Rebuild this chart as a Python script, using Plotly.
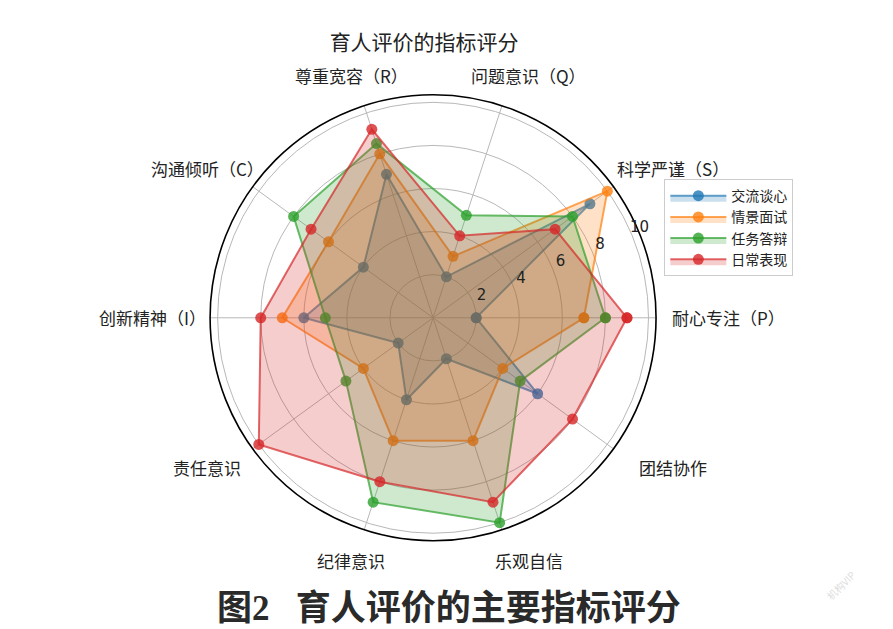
import math
import plotly.graph_objects as go

# 指标（逆时针，从右侧开始）
categories = ["耐心专注（P）", "科学严谨（S）", "问题意识（Q）", "尊重宽容（R）", "沟通倾听（C）",
              "创新精神（I）", "责任意识", "纪律意识", "乐观自信", "团结协作"]

jiaoliu = [2, 9, 2, 7, 4, 6, 2, 4, 2, 6]        # 交流谈心
qingjing = [7, 10, 3, 8, 6, 7, 4, 6, 6, 4]      # 情景面试
renwu = [8, 8, 5, 8.5, 8, 5, 5, 9, 10, 5]       # 任务答辩
richang = [9, 7, 4, 9.2, 7, 8, 10, 8, 9, 8]     # 日常表现

radial_ticks = [2, 4, 6, 8, 10]

series = [
    ("交流谈心", jiaoliu, (31, 119, 180)),
    ("情景面试", qingjing, (255, 127, 14)),
    ("任务答辩", renwu, (44, 160, 44)),
    ("日常表现", richang, (214, 39, 40)),
]

FONT = "Noto Sans CJK SC"
W, H = 893, 629
CX, CY = 432, 310   # 标签椭圆中心（像素）
RMAX = 10.35
# 主极坐标区域（中心与半宽，纸面比例）
FX, FY, HX, HY = 0.476, 0.5075, 0.25, 0.3545
RMAX2 = 12.0                     # 刻度文字用的第二个极坐标，比例尺相同
K = RMAX2 / RMAX

fig = go.Figure()
for name, vals, c in series:
    r, g, b = c
    fig.add_trace(go.Scatterpolar(
        r=vals + vals[:1],
        theta=categories + categories[:1],
        name=name,
        mode="lines+markers",
        fill="toself",
        fillcolor=f"rgba({r},{g},{b},0.23)",
        line=dict(color=f"rgba({r},{g},{b},0.7)", width=2),
        marker=dict(size=11, color=f"rgba({r},{g},{b},0.8)"),
    ))

# 径向刻度文字（放在刻度外侧一点，22.5°方向）
fig.add_trace(go.Scatterpolar(
    r=[v + 0.45 for v in radial_ticks],
    theta=[23.5] * len(radial_ticks),
    text=[str(v) for v in radial_ticks],
    mode="text", textposition="middle center", cliponaxis=False,
    textfont=dict(size=15, family="DejaVu Sans", color="#222222"),
    subplot="polar2", showlegend=False, hoverinfo="skip",
))

fig.update_layout(
    width=W, height=H,
    margin=dict(l=0, r=0, t=0, b=0),
    paper_bgcolor="white",
    font=dict(family=FONT, color="#222222"),
    title=dict(text="育人评价的指标评分", x=0.466, y=0.945, xanchor="center", yanchor="middle",
               font=dict(size=21, family=FONT, color="#222222")),
    polar=dict(
        domain=dict(x=[FX - HX, FX + HX], y=[FY - HY, FY + HY]),
        bgcolor="white",
        angularaxis=dict(
            type="category", rotation=0, direction="counterclockwise",
            showline=True, linecolor="black", linewidth=1.6,
            gridcolor="#b8b8b8", gridwidth=1, ticks="", showticklabels=False,
        ),
        radialaxis=dict(
            range=[0, RMAX], tickvals=radial_ticks, angle=22.5,
            showline=False, ticks="", showticklabels=False,
            gridcolor="#b8b8b8", gridwidth=1,
        ),
    ),
    polar2=dict(
        domain=dict(x=[FX - HX * K, FX + HX * K], y=[FY - HY * K, FY + HY * K]),
        bgcolor="rgba(0,0,0,0)",
        angularaxis=dict(visible=False, rotation=0, direction="counterclockwise"),
        radialaxis=dict(visible=False, range=[0, RMAX2]),
    ),
    legend=dict(
        x=0.735, y=0.728, xanchor="left", yanchor="top",
        bordercolor="#cccccc", borderwidth=1, bgcolor="rgba(255,255,255,0.85)",
        font=dict(size=14, family=FONT, color="#222222"),
        tracegroupgap=0, itemwidth=56,
    ),
    showlegend=True,
)

# 指标标签：绕图放在椭圆上，文字居中
n = len(categories)
for i, lab in enumerate(categories):
    ang = 2 * math.pi * i / n
    px = CX + 288 * math.cos(ang)
    py = CY - 255 * math.sin(ang)
    fig.add_annotation(
        text=lab, x=px / W, y=1 - py / H, xref="paper", yref="paper",
        xanchor="center", yanchor="middle", showarrow=False,
        font=dict(size=17, family=FONT, color="#222222"),
    )

fig.add_annotation(
    text="<b>图2\u00a0\u00a0\u00a0育人评价的主要指标评分</b>", x=441 / W, y=0.045, xref="paper", yref="paper",
    xanchor="center", yanchor="middle", showarrow=False,
    font=dict(size=35, family="Liberation Serif, " + FONT, color="#2a2a2a"),
)
fig.add_annotation(
    text="机构VIP", x=0.955, y=0.05, xref="paper", yref="paper", showarrow=False,
    textangle=-45, font=dict(size=10, family=FONT, color="#dddddd"),
)

fig.write_html("out.html")
